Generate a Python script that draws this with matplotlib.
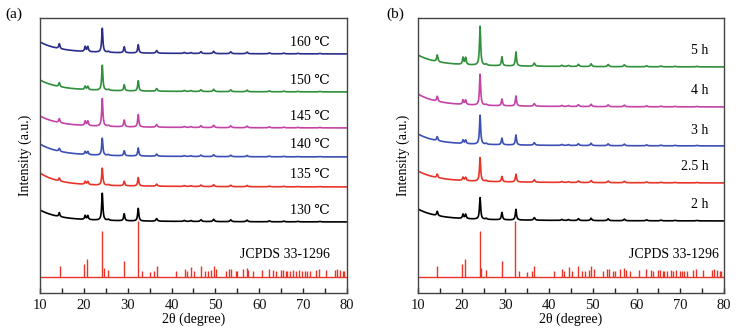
import numpy as np
import matplotlib
matplotlib.use("Agg")
import matplotlib.pyplot as plt

plt.rcParams['font.family'] = ['Liberation Serif', 'DejaVu Serif']
plt.rcParams['mathtext.fontset'] = 'stix'

# ---------------- data ----------------
# main diffraction peaks (2theta) shared by all samples
major_pos = [14.4, 20.3, 20.9, 24.2, 29.2, 32.4]
# weak peaks and their typical intensities (a.u.)
minor_pos = [25.6, 36.6, 42.9, 44.4, 46.7, 49.6, 53.5, 57.2, 62.3, 65.6, 68.8, 73.8]
minor_int = [1.0, 2.6, 1.0, 0.9, 1.8, 2.3, 1.8, 1.6, 0.9, 0.7, 0.5, 0.5]

# panel (a): temperature series
temp_labels = ["130 \u2103", "135 \u2103", "140 \u2103", "145 \u2103", "150 \u2103", "160 \u2103"]
temp_colors = ["#000000", "#e8352a", "#3b4fb5", "#c443a6", "#2f8f3a", "#2b2d8a"]
temp_offset = [71, 106, 136, 165, 201, 239]           # baseline at 80 deg
temp_rise = [12, 14, 13, 12, 12, 12]                  # background rise at 10 deg
temp_major = [                                        # heights of major_pos peaks
    [4.0, 4.0, 4.0, 27.0, 7.0, 12.6],
    [3.0, 3.0, 3.0, 17.0, 4.5, 8.4],
    [3.0, 3.0, 3.0, 17.0, 5.0, 8.0],
    [4.0, 4.5, 4.5, 27.7, 6.7, 12.4],
    [4.0, 3.3, 3.3, 25.0, 6.0, 10.3],
    [5.0, 5.0, 5.0, 24.0, 6.0, 8.3],
]
temp_minor = [1.0, 0.8, 0.8, 1.0, 1.0, 1.0]

# panel (b): time series
time_labels = ["2 h", "2.5 h", "3 h", "4 h", "5 h"]
time_colors = ["#000000", "#e8352a", "#3b4fb5", "#c443a6", "#2f8f3a"]
time_offset = [72, 110, 147, 186, 226]
time_rise = [12, 12, 12, 13, 12]
time_major = [
    [4.3, 4.3, 4.3, 21.6, 7.3, 10.6],
    [3.5, 3.3, 3.3, 23.7, 5.3, 7.7],
    [4.0, 3.5, 3.5, 29.0, 6.6, 10.0],
    [5.0, 4.5, 4.5, 31.0, 6.7, 10.0],
    [6.7, 7.0, 7.0, 39.0, 9.0, 14.0],
]
time_minor = [1.0, 0.9, 1.0, 1.0, 1.2]

# JCPDS 33-1296 reference lines
ref_pos = [14.45, 20.0, 20.76, 24.25, 24.5, 25.5, 29.2, 32.3, 33.15, 35.0, 36.1, 36.6,
           41.1, 42.95, 43.5, 44.5, 45.15, 46.7, 47.6, 48.3, 49.1, 49.6, 50.2,
           52.4, 53.2, 53.6, 54.6, 55.0, 56.2, 57.2, 57.5, 58.6, 60.65, 62.2,
           63.2, 63.7, 65.0, 65.4, 66.0, 66.35, 67.0, 67.8, 68.3, 69.1, 69.85,
           70.4, 70.9, 71.5, 73.0, 73.6, 75.1, 77.2, 77.8, 78.5, 79.0, 79.4]
ref_int = [10.7, 12.7, 17.7, 45.7, 9.0, 6.7, 16.3, 56.0, 5.7, 5.0, 6.0, 11.3,
           6.0, 7.7, 6.0, 9.7, 5.7, 11.3, 6.0, 6.0, 7.3, 11.3, 7.7,
           5.7, 8.3, 8.0, 6.0, 5.7, 7.7, 9.0, 7.3, 6.0, 7.3, 7.7,
           7.3, 6.0, 7.3, 6.7, 6.3, 6.0, 5.7, 6.7, 6.0, 6.7, 6.0,
           5.7, 5.7, 6.0, 6.7, 8.3, 6.7, 6.7, 7.7, 6.7, 5.7, 5.7]
ref_offset = 16

# ---------------- drawing ----------------
x = np.arange(10, 80.001, 0.02)


def peak(pos, h, w=0.16):
    return h / (1 + ((x - pos) / w) ** 2)


def pattern(off, rise, majors, mscale):
    y = off + 3.0 * np.exp(-(x - 10) / 20) + (rise - 3.0) * np.exp(-(x - 10) / 4.0)
    for p, h in zip(major_pos, majors):
        y = y + peak(p, h)
    for p, h in zip(minor_pos, minor_int):
        y = y + peak(p, h * mscale, 0.2)
    return y


fig = plt.figure(figsize=(7.44, 3.36), dpi=100)
axA = fig.add_axes([40 / 744, 1 - 293 / 336, 307 / 744, 275 / 336])
axB = fig.add_axes([418 / 744, 1 - 293 / 336, 306 / 744, 275 / 336])


def style(ax):
    ax.set_xlim(10, 80)
    ax.set_ylim(0, 275)
    ax.set_yticks([])
    ax.set_xticks(range(10, 81, 10))
    ax.set_xticks(range(15, 80, 10), minor=True)
    ax.tick_params(axis='x', which='both', direction='in', length=3.5, width=1,
                   labelsize=10.5, pad=4, colors='#222222')
    ax.tick_params(axis='x', labelcolor='#111111')
    for s in ax.spines.values():
        s.set_color('#444444')
        s.set_linewidth(1.0)
    ax.set_xlabel("2\u03b8 (degree)", fontsize=10, labelpad=1)
    ax.set_ylabel("Intensity (a.u.)", fontsize=10, labelpad=6)


def draw_ref(ax):
    ax.plot([10, 80], [ref_offset, ref_offset], color='#e8352a', lw=1.0)
    ax.vlines(ref_pos, ref_offset, [ref_offset + v for v in ref_int],
              color='#e8352a', lw=1.0)


# panel (a)
for lab, col, off, rise, maj, ms in zip(temp_labels, temp_colors, temp_offset,
                                        temp_rise, temp_major, temp_minor):
    axA.plot(x, pattern(off, rise, maj, ms), color=col, lw=1.2)
    axA.text(76.1, off + 12, lab, ha='right', va='center', fontsize=10)
draw_ref(axA)
axA.text(76.1, 38, "JCPDS 33-1296", ha='right', va='center', fontsize=10)
style(axA)

# panel (b)
for lab, col, off, rise, maj, ms in zip(time_labels, time_colors, time_offset,
                                        time_rise, time_major, time_minor):
    axB.plot(x, pattern(off, rise, maj, ms), color=col, lw=1.2)
    axB.text(76.5, off + 16, lab, ha='right', va='center', fontsize=10)
draw_ref(axB)
axB.text(78.9, 38, "JCPDS 33-1296", ha='right', va='center', fontsize=10)
style(axB)

fig.text(5 / 744, 1 - 14 / 336, "(a)", fontsize=11, va='center', ha='left')
fig.text(386 / 744, 1 - 14 / 336, "(b)", fontsize=11, va='center', ha='left')

fig.savefig("out.png", dpi=100, facecolor='white')
